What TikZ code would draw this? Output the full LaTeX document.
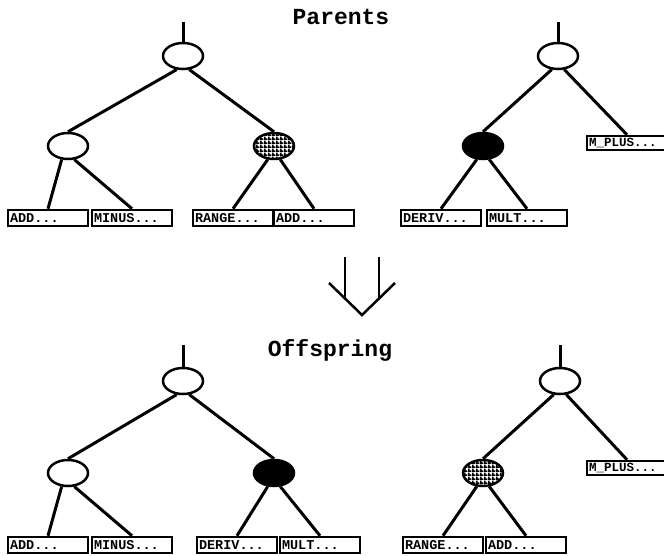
\documentclass[tikz,border=0pt]{standalone}
\usepackage{fontspec}
\setmonofont{Liberation Mono}
\usetikzlibrary{shapes.geometric,patterns.meta}
\tikzdeclarepattern{
  name=dotgrid, type=uncolored,
  bounding box={(0pt,0pt) and (4pt,4pt)},
  tile size={(4pt,4pt)},
  code={\pgfsetlinewidth{2pt}
    \pgfpathmoveto{\pgfpoint{0pt}{1pt}}\pgfpathlineto{\pgfpoint{4pt}{1pt}}
    \pgfpathmoveto{\pgfpoint{1pt}{0pt}}\pgfpathlineto{\pgfpoint{1pt}{4pt}}
    \pgfusepath{stroke}}}
\tikzset{
  tnode/.style={ellipse, draw, line width=2.5, minimum width=40, minimum height=26, inner sep=0, fill=white},
  filled/.style={tnode, fill=black},
  hatched/.style={tnode, fill=white, pattern={dotgrid}, pattern color=black},
  leaf/.style={rectangle, draw, line width=2.5, minimum height=16, inner ysep=0, inner xsep=2,
    text width=76, align=left, font=\ttfamily\bfseries\fontsize{13.5}{13.5}\selectfont, fill=white},
  mleaf/.style={leaf, minimum height=14, font=\ttfamily\bfseries\fontsize{12.5}{12.5}\selectfont},
  edge/.style={line width=3},
  title/.style={font=\ttfamily\bfseries\fontsize{23}{23}\selectfont},
  arr/.style={line width=2.5}
}
\begin{document}
\begin{tikzpicture}[x=1pt,y=-1pt]
\useasboundingbox (0,0) rectangle (664,556);
% titles
\node[title] (tp) at (341,17) {Parents};
\node[title] (to) at (330,350) {Offspring};
% ---------- top left tree
\node[tnode] (r1) at (183,56) {};
\coordinate (t1) at (183,22);
\node[tnode] (c1l) at (68,146) {};
\node[hatched] (c1r) at (274,146) {};
\node[leaf] (l1) at (48,218) {ADD...};
\node[leaf] (l2) at (132,218) {MINUS...};
\node[leaf] (l3) at (233,218) {RANGE...};
\node[leaf] (l4) at (314,218) {ADD...};
\draw[edge] (t1) -- (r1.north);
\draw[edge] (r1.-115) -- (c1l.north);
\draw[edge] (r1.-65) -- (c1r.north);
\draw[edge] (c1l.-115) -- (l1.north);
\draw[edge] (c1l.-65) -- (l2.north);
\draw[edge] (c1r.-115) -- (l3.north);
\draw[edge] (c1r.-65) -- (l4.north);
% ---------- top right tree
\node[tnode] (r2) at (558,56) {};
\coordinate (t2) at (558,22);
\node[filled] (c2l) at (483,146) {};
\node[mleaf] (m1) at (627,143) {M\_PLUS...};
\node[leaf] (l5) at (441,218) {DERIV...};
\node[leaf] (l6) at (527,218) {MULT...};
\draw[edge] (t2) -- (r2.north);
\draw[edge] (r2.-115) -- (c2l.north);
\draw[edge] (r2.-65) -- (m1.north);
\draw[edge] (c2l.-115) -- (l5.north);
\draw[edge] (c2l.-65) -- (l6.north);
% ---------- arrow
\coordinate (av1) at (345,257);
\coordinate (av2) at (345,298.5);
\coordinate (av3) at (379,257);
\coordinate (av4) at (379,298.5);
\coordinate (aw1) at (329,283);
\coordinate (aw2) at (395,283);
\coordinate (atip) at (362,315);
\draw[arr] (av1) -- (av2);
\draw[arr] (av3) -- (av4);
\draw[arr, line join=miter] (aw1) -- (atip) -- (aw2);
% ---------- bottom left tree
\node[tnode] (r3) at (183,381) {};
\coordinate (t3) at (183,345);
\node[tnode] (c3l) at (68,473) {};
\node[filled] (c3r) at (274,473) {};
\node[leaf] (l7) at (48,545) {ADD...};
\node[leaf] (l8) at (132,545) {MINUS...};
\node[leaf] (l9) at (237,545) {DERIV...};
\node[leaf] (l10) at (320,545) {MULT...};
\draw[edge] (t3) -- (r3.north);
\draw[edge] (r3.-115) -- (c3l.north);
\draw[edge] (r3.-65) -- (c3r.north);
\draw[edge] (c3l.-115) -- (l7.north);
\draw[edge] (c3l.-65) -- (l8.north);
\draw[edge] (c3r.-115) -- (l9.north);
\draw[edge] (c3r.-65) -- (l10.north);
% ---------- bottom right tree
\node[tnode] (r4) at (560,381) {};
\coordinate (t4) at (560,345);
\node[hatched] (c4l) at (483,473) {};
\node[mleaf] (m2) at (627,468) {M\_PLUS...};
\node[leaf] (l11) at (443,545) {RANGE...};
\node[leaf] (l12) at (526,545) {ADD...};
\draw[edge] (t4) -- (r4.north);
\draw[edge] (r4.-115) -- (c4l.north);
\draw[edge] (r4.-65) -- (m2.north);
\draw[edge] (c4l.-115) -- (l11.north);
\draw[edge] (c4l.-65) -- (l12.north);
\end{tikzpicture}
\end{document}
